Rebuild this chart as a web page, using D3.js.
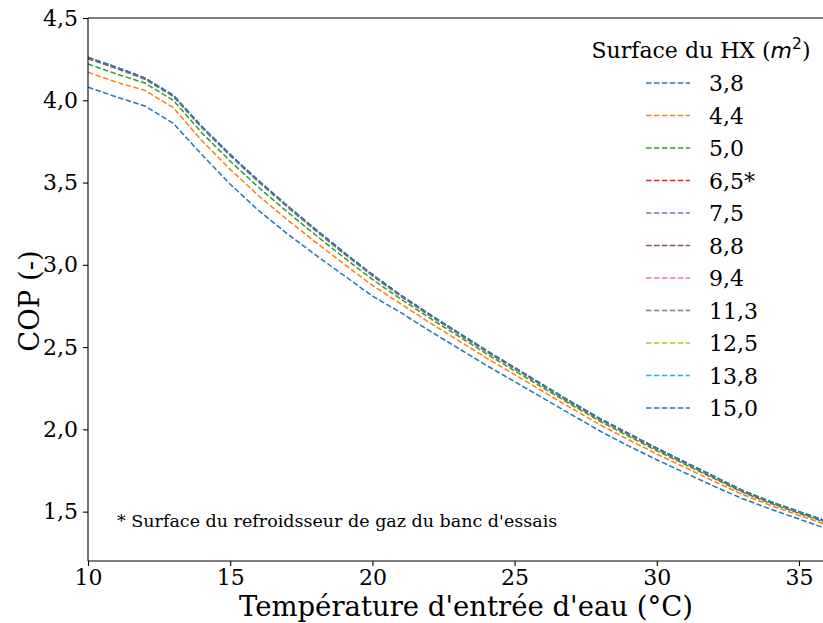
<!DOCTYPE html>
<html><head><meta charset="utf-8">
<script src="https://cdn.jsdelivr.net/npm/d3@7"></script>
<style>body{margin:0;background:#fff;} svg{display:block;}</style>
</head><body>
<script>
// ---- data ----
const temps = [10,11,12,13,14,15,16,17,18,19,20,21,22,23,24,25,26,27,28,29,30,31,32,33,34,35,36];
const cop38 = [4.08,4.02,3.965,3.86,3.67,3.49,3.33,3.19,3.06,2.935,2.81,2.71,2.60,2.495,2.39,2.29,2.19,2.09,1.99,1.90,1.815,1.735,1.655,1.58,1.515,1.455,1.395];
const cop44 = [4.17,4.11,4.06,3.955,3.755,3.58,3.42,3.275,3.138,3.005,2.875,2.763,2.65,2.543,2.435,2.333,2.23,2.128,2.028,1.938,1.85,1.768,1.685,1.605,1.538,1.478,1.418];
const cop50 = [4.22,4.16,4.105,4.0,3.803,3.63,3.47,3.323,3.181,3.044,2.911,2.792,2.678,2.569,2.46,2.356,2.252,2.149,2.049,1.959,1.87,1.786,1.702,1.619,1.55,1.49,1.43];
const cop65 = [4.253,4.193,4.128,4.023,3.833,3.663,3.503,3.353,3.208,3.068,2.933,2.808,2.693,2.583,2.473,2.368,2.263,2.158,2.058,1.968,1.878,1.793,1.708,1.623,1.554,1.494,1.434];
const cop75 = [4.257,4.197,4.132,4.027,3.837,3.667,3.507,3.357,3.212,3.072,2.937,2.812,2.697,2.587,2.477,2.372,2.267,2.162,2.062,1.972,1.882,1.797,1.712,1.627,1.557,1.497,1.437];
const copHigh = [4.26,4.20,4.135,4.03,3.84,3.67,3.51,3.36,3.215,3.075,2.94,2.815,2.70,2.59,2.48,2.375,2.27,2.165,2.065,1.975,1.885,1.80,1.715,1.63,1.56,1.50,1.44];
const seriesLabels = ["3,8","4,4","5,0","6,5*","7,5","8,8","9,4","11,3","12,5","13,8","15,0"];
const seriesValues = [cop38,cop44,cop50,cop65,cop75,copHigh,copHigh,copHigh,copHigh,copHigh,copHigh];
const colors = ["#1f77b4","#ff7f0e","#2ca02c","#d62728","#9467bd","#8c564b","#e377c2","#7f7f7f","#bcbd22","#17becf","#1f77b4"];
const xTicks = [10,15,20,25,30,35];
const yTicks = [1.5,2.0,2.5,3.0,3.5,4.0,4.5];

(function () {
// ---- layout ----
const W = 823, H = 623;
const mLeft = 88, mTop = 18, mBottom = 561;
const svg = d3.select("body").append("svg").attr("width", W).attr("height", H)
  .style("font-family", "'DejaVu Serif', serif");

const x = d3.scaleLinear().domain([10, 36]).range([mLeft, mLeft + 26 * 28.44]);
const y = d3.scaleLinear().domain([1.2, 4.5]).range([mBottom, mTop]);
const fmt = v => d3.format(".1f")(v).replace(".", ",");

svg.append("defs").append("clipPath").attr("id", "clip")
  .append("rect").attr("x", mLeft).attr("y", mTop).attr("width", W - mLeft).attr("height", mBottom - mTop);

const line = d3.line().x((d, i) => x(temps[i])).y(d => y(d));
const g = svg.append("g").attr("clip-path", "url(#clip)");
seriesValues.forEach((vals, k) => {
  g.append("path").datum(vals).attr("d", line)
    .attr("fill", "none").attr("stroke", colors[k]).attr("stroke-width", 1.5)
    .attr("stroke-dasharray", "5.55,2.4");
});

// axes
const xAxis = svg.append("g").attr("transform", `translate(0,${mBottom})`)
  .call(d3.axisBottom(x).tickValues(xTicks).tickFormat(d => d).tickSizeOuter(0).tickSize(5).tickPadding(3));
const yAxis = svg.append("g").attr("transform", `translate(${mLeft},0)`)
  .call(d3.axisLeft(y).tickValues(yTicks).tickFormat(fmt).tickSizeOuter(0).tickSize(5).tickPadding(5));
[xAxis, yAxis].forEach(a => {
  a.select(".domain").remove();
  a.selectAll(".tick line").attr("stroke", "#000").attr("stroke-width", 1.1);
  a.selectAll(".tick text").attr("font-family", "'DejaVu Serif', serif").attr("font-size", 22).attr("fill", "#000");
});
// spines
svg.append("line").attr("x1", mLeft).attr("x2", mLeft).attr("y1", mTop).attr("y2", mBottom).attr("stroke", "#000").attr("stroke-width", 1.1);
svg.append("line").attr("x1", mLeft).attr("x2", W).attr("y1", mBottom).attr("y2", mBottom).attr("stroke", "#000").attr("stroke-width", 1.1);
svg.append("line").attr("x1", mLeft).attr("x2", W).attr("y1", mTop).attr("y2", mTop).attr("stroke", "#000").attr("stroke-width", 1.1);

// axis labels
svg.append("text").attr("x", 466).attr("y", 616).attr("text-anchor", "middle")
  .attr("font-size", 27.5).text("Température d'entrée d'eau (°C)");
svg.append("text").attr("transform", "translate(39,301) rotate(-90)").attr("text-anchor", "middle")
  .attr("font-size", 27.5).text("COP (-)");

// annotation
svg.append("text").attr("x", 117).attr("y", 527).attr("font-size", 17.5)
  .text("* Surface du refroidsseur de gaz du banc d'essais");

// legend
const lt = svg.append("text").attr("x", 701).attr("y", 58).attr("text-anchor", "middle").attr("font-size", 22);
lt.append("tspan").text("Surface du HX (");
lt.append("tspan").attr("font-family", "'DejaVu Sans', sans-serif").attr("font-style", "italic").text("m");
lt.append("tspan").attr("font-family", "'DejaVu Sans', sans-serif").attr("font-size", 15.5).attr("dy", -9).text("2");
lt.append("tspan").attr("dy", 9).text(")");

seriesLabels.forEach((lab, k) => {
  const yy = 83 + k * 32.5;
  svg.append("line").attr("x1", 646).attr("x2", 690).attr("y1", yy).attr("y2", yy)
    .attr("stroke", colors[k]).attr("stroke-width", 1.5).attr("stroke-dasharray", "5.55,2.4");
  svg.append("text").attr("x", 709).attr("y", yy + 8).attr("font-size", 22).text(lab);
});
})();
</script>
</body></html>
